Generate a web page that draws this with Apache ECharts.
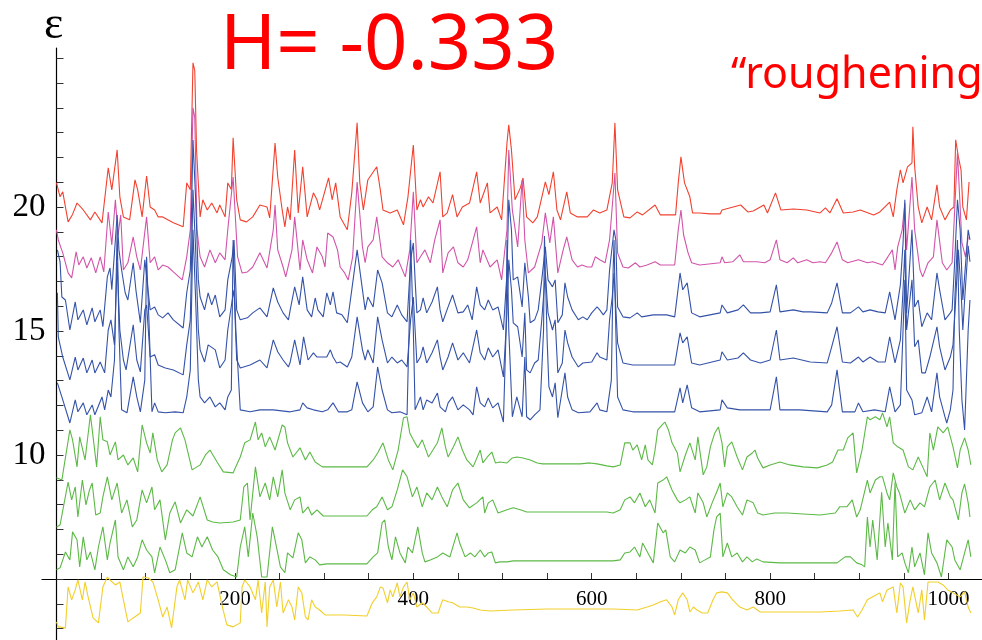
<!DOCTYPE html>
<html>
<head>
<meta charset="utf-8">
<script src="https://cdn.jsdelivr.net/npm/echarts@6/dist/echarts.min.js"></script>
<style>
  html, body { margin: 0; padding: 0; background: #fff; }
  #chart { width: 982px; height: 640px; }
</style>
</head>
<body>
<div id="chart"></div>
<script>
// axis ticks and labels
const yTickValues = [3,4,5,6,7,8,9,10,11,12,13,14,15,16,17,18,19,20,21,22,23,24,25,26];
const yLabelValues = [10, 15, 20];
const xTickValues = [50,100,150,200,250,300,350,400,450,500,550,600,650,700,750,800,850,900,950,1000];
const xLabelValues = [200, 400, 600, 800, 1000];

// series as [position, epsilon]
const red = [[0,20.97],[4,20.41],[7,20.61],[13,19.4],[18,19.7],[23,20.16],[30,19.88],[38,19.48],[43,19.8],[51,19.36],[58,21.58],[62,20.69],[68,22.3],[71,20.41],[75,19.6],[82,19.48],[88,21.09],[91,20.69],[96,19.6],[101,21.25],[105,20.0],[110,19.88],[114,19.6],[119,19.6],[131,19.36],[142,19.2],[146,20.97],[150,20.69],[153,25.81],[155,25.5],[157,22.3],[161,19.6],[164,20.29],[169,19.88],[174,20.16],[180,19.76],[183,20.08],[189,19.6],[192,20.97],[196,20.7],[198,22.79],[202,20.29],[206,19.48],[213,19.4],[220,19.6],[228,20.08],[236,20.0],[239,19.56],[245,22.58],[248,21.2],[253,19.88],[256,19.2],[259,20.0],[262,19.48],[267,22.3],[271,19.76],[276,21.62],[281,19.6],[288,20.57],[292,20.29],[295,19.88],[305,21.17],[309,20.29],[313,20.97],[318,19.6],[326,19.08],[331,20.57],[337,23.39],[340,20.97],[344,19.88],[349,21.09],[359,21.62],[363,20.69],[366,19.88],[374,19.76],[382,19.88],[389,19.28],[394,20.41],[400,22.5],[404,19.88],[408,20.29],[411,20.0],[417,20.41],[422,20.16],[430,21.42],[433,19.6],[438,19.76],[444,20.5],[449,19.6],[455,20.0],[463,20.16],[471,21.42],[475,20.16],[483,20.97],[486,19.76],[494,20.0],[499,19.48],[505,22.58],[507,23.31],[510,22.3],[514,20.29],[520,20.77],[523,21.17],[527,19.6],[534,19.36],[539,19.6],[548,21.01],[552,20.5],[557,21.42],[561,19.88],[565,19.48],[572,20.61],[576,19.76],[584,19.6],[595,19.6],[602,19.88],[609,19.76],[617,19.88],[623,20.97],[626,23.39],[629,20.69],[636,19.6],[643,19.56],[651,19.8],[657,19.68],[671,20.08],[677,19.68],[694,19.68],[697,20.97],[700,22.02],[704,20.97],[710,20.41],[713,19.76],[721,19.76],[733,19.72],[744,19.72],[746,19.88],[767,20.08],[775,19.8],[781,19.84],[793,20.08],[797,19.76],[806,20.57],[812,19.88],[826,19.92],[841,19.88],[856,19.76],[862,19.96],[867,19.76],[875,20.33],[882,19.76],[893,19.8],[901,19.88],[916,19.68],[923,19.8],[934,20.2],[938,19.6],[942,20.69],[946,21.5],[949,20.97],[954,21.62],[959,21.78],[960,23.23],[962,21.62],[966,20.0],[970,19.36],[976,20.0],[981,19.48],[987,20.89],[990,20.0],[996,19.48],[1002,19.88],[1006,20.0],[1008,22.71],[1011,22.02],[1014,21.5],[1016,20.0],[1020,19.48],[1023,21.01]];

const magenta = [[0,19.08],[2,18.67],[7,18.15],[13,17.34],[17,17.14],[22,18.19],[25,17.66],[30,17.99],[34,17.54],[39,17.95],[44,17.34],[49,17.99],[53,17.38],[58,19.8],[62,18.47],[66,20.29],[69,18.87],[72,19.68],[75,17.46],[80,17.75],[86,18.79],[90,17.99],[94,17.46],[101,19.6],[105,17.75],[110,17.99],[114,17.46],[119,17.66],[125,17.58],[131,17.38],[141,17.06],[146,17.99],[150,19.08],[153,24.0],[155,23.6],[157.5,19.08],[161,17.99],[166,17.58],[172,18.27],[178,17.75],[183,18.15],[189,17.87],[192,19.08],[198,21.21],[203,17.99],[208,17.34],[214,17.38],[220,17.58],[228,18.15],[236,17.54],[243,19.08],[245,20.08],[248,18.27],[254,17.58],[257,17.18],[264,18.27],[267,19.6],[273,17.46],[276,18.67],[281,17.87],[287,17.34],[292,18.39],[298,17.99],[301,17.58],[304,18.95],[310,18.79],[315,18.27],[318,17.58],[323,17.34],[327,17.06],[332,17.99],[337,21.01],[343,18.39],[346,17.75],[349,18.39],[355,18.67],[359,19.6],[365,17.99],[371,17.75],[377,17.58],[383,17.87],[391,17.18],[396,18.27],[400,20.61],[404,17.75],[408,17.99],[413,18.27],[419,17.75],[424,18.67],[430,19.48],[433,17.34],[439,18.15],[445,18.39],[450,17.75],[456,17.58],[461,17.87],[471,19.2],[475,17.75],[478,18.27],[486,17.58],[494,17.87],[499,17.06],[505,19.08],[507,22.3],[511,19.88],[517,18.39],[522,21.09],[525,18.67],[529,17.34],[531,17.34],[536,17.58],[544,18.55],[548,19.76],[553,18.55],[557,19.6],[562,17.34],[568,18.27],[572,18.79],[578,17.87],[584,17.58],[589,17.66],[595,17.58],[600,17.58],[604,17.99],[609,17.87],[615,17.75],[620,18.67],[626,21.37],[629,18.15],[635,17.58],[641,17.54],[649,17.75],[654,17.58],[662,17.66],[671,17.79],[677,17.66],[693,17.66],[697,19.08],[700,19.88],[703,18.87],[708,18.15],[712,17.75],[721,17.66],[744,17.75],[746,17.99],[749,17.75],[758,17.79],[766,18.07],[770,17.79],[785,17.79],[794,17.75],[800,17.87],[807,18.67],[811,17.87],[819,17.75],[826,17.95],[831,17.75],[841,17.87],[848,17.75],[856,17.79],[862,17.75],[869,18.15],[875,18.59],[881,17.87],[887,17.75],[899,17.87],[909,17.75],[915,17.79],[926,17.66],[932,17.99],[937,18.27],[940,17.46],[943,18.39],[948,19.08],[951,20.16],[953,18.27],[959,21.21],[962,19.08],[965,18.27],[968,17.46],[971,17.18],[977,17.75],[983,17.99],[987,19.48],[993,17.75],[998,17.46],[1004,17.75],[1010,22.2],[1015,18.55],[1019,17.99],[1022,18.79]];

const blue1 = [[1,18.27],[4,17.79],[6,16.37],[10,16.25],[15,15.04],[21,16.17],[24,15.45],[30,15.85],[34,15.25],[40,15.93],[43,15.37],[49,15.85],[52,15.17],[57,17.18],[60,17.54],[62,16.66],[66,18.67],[68,19.68],[70,18.27],[73,17.46],[77,16.54],[80,16.25],[86,17.75],[89,16.66],[94,15.33],[99,17.87],[101,17.95],[105,15.85],[110,15.97],[114,15.65],[119,15.53],[125,15.73],[131,15.45],[142,15.12],[146,16.54],[150,17.46],[153,22.7],[156,20.3],[159,17.06],[161,16.37],[166,15.85],[170,16.54],[174,16.05],[178,16.45],[183,15.57],[189,15.85],[192,17.06],[197,17.99],[199,18.67],[202,15.85],[206,15.45],[214,15.53],[220,15.73],[228,15.93],[236,15.57],[243,16.74],[248,16.17],[254,15.73],[260,15.45],[262,15.85],[267,16.78],[272,16.05],[276,17.18],[281,15.85],[286,15.57],[290,16.33],[293,15.85],[299,15.57],[303,16.54],[307,16.05],[310,16.58],[314,15.73],[320,15.65],[326,15.33],[331,16.66],[337,18.27],[343,16.66],[346,15.85],[349,16.37],[355,15.97],[360,17.46],[365,16.94],[371,15.73],[376,15.57],[382,16.05],[387,15.65],[393,15.37],[397,17.87],[400,18.55],[402,17.06],[404,15.73],[408,15.85],[411,16.33],[415,15.73],[421,16.17],[427,16.78],[430,15.85],[433,15.37],[439,15.97],[444,16.45],[450,15.73],[456,15.77],[461,16.05],[466,15.45],[471,16.78],[475,16.05],[480,15.85],[484,16.25],[489,15.85],[495,15.97],[501,15.04],[505,17.34],[507,20.29],[510,19.08],[512,17.06],[517,17.18],[522,15.97],[525,17.75],[529,16.37],[531,15.33],[536,15.45],[540,15.85],[544,17.06],[548,18.39],[551,17.06],[556,16.78],[559,17.06],[562,15.33],[567,15.65],[570,16.94],[573,16.37],[578,15.85],[585,15.45],[590,15.57],[595,15.45],[600,15.73],[606,15.97],[609,15.85],[613,15.65],[617,15.85],[620,17.46],[625,19.08],[627,18.67],[629,15.97],[635,15.57],[643,15.53],[651,15.73],[656,15.57],[669,15.65],[684,15.65],[693,15.57],[699,17.34],[702,16.66],[707,16.94],[712,15.73],[721,15.57],[744,15.73],[746,16.05],[752,15.73],[764,15.85],[770,16.05],[778,15.73],[789,15.73],[800,15.77],[807,16.86],[811,15.77],[826,15.85],[837,15.77],[845,15.77],[864,15.73],[869,16.13],[875,16.94],[881,15.73],[890,15.73],[899,15.97],[904,15.77],[912,15.85],[921,15.77],[929,15.73],[934,16.58],[940,15.45],[946,16.86],[949,18.55],[951,20.29],[953,15.73],[959,19.08],[962,15.97],[966,16.25],[970,15.17],[976,15.73],[981,15.45],[987,17.34],[990,16.66],[996,15.45],[1002,15.73],[1004,15.85],[1007,17.87],[1010,20.29],[1013,19.08],[1016,16.25],[1018,17.18],[1022,19.08],[1024,18.67]];

const blue2 = [[1,16.54],[2,14.76],[7,13.95],[15,13.03],[21,13.95],[24,13.43],[30,13.91],[34,13.31],[40,13.83],[43,13.31],[49,13.75],[54,13.31],[58,15.04],[61,15.45],[65,14.44],[68,17.75],[71,15.04],[75,13.83],[78,13.43],[86,15.25],[90,13.83],[94,13.35],[99,15.85],[101,16.05],[105,13.95],[110,14.04],[114,13.63],[122,13.51],[131,13.43],[142,13.23],[146,14.44],[150,15.45],[153,20.69],[156,18.27],[159,15.04],[161,14.24],[166,13.75],[170,14.44],[178,14.24],[183,13.51],[189,13.83],[192,15.04],[197,16.25],[199,16.66],[202,13.83],[206,13.51],[217,13.63],[228,13.83],[236,13.51],[243,14.64],[248,14.16],[254,13.83],[260,13.55],[262,13.75],[267,14.64],[273,13.63],[277,14.76],[282,13.83],[288,14.12],[292,13.95],[298,13.95],[303,13.95],[307,14.24],[310,13.95],[314,13.71],[318,13.75],[326,13.55],[331,13.95],[337,15.57],[343,14.24],[346,13.83],[349,14.24],[355,13.71],[360,15.57],[365,14.64],[371,13.71],[376,13.95],[382,13.71],[387,13.83],[393,13.55],[397,15.45],[400,16.37],[402,15.04],[404,13.71],[408,13.95],[411,14.36],[415,13.71],[421,14.12],[427,14.64],[430,13.95],[433,13.43],[439,13.95],[444,14.52],[450,13.83],[456,14.12],[463,13.71],[471,15.04],[475,14.12],[480,13.83],[484,14.32],[489,13.95],[495,14.24],[501,13.15],[505,15.73],[507,17.87],[510,16.66],[512,15.33],[517,15.17],[522,13.95],[525,15.73],[527,13.43],[531,13.31],[536,13.71],[540,13.83],[544,15.45],[548,17.34],[551,15.73],[556,15.04],[559,15.45],[562,13.31],[567,13.71],[570,15.04],[573,14.52],[578,13.95],[585,13.55],[590,13.71],[600,13.75],[606,14.12],[609,13.95],[617,13.83],[620,15.45],[623,16.37],[625,17.34],[629,14.52],[635,13.71],[646,13.63],[665,13.63],[693,13.63],[699,14.92],[702,14.52],[707,14.76],[712,13.71],[721,13.63],[744,13.83],[746,14.16],[752,13.83],[764,13.91],[770,14.12],[778,13.83],[789,13.71],[800,13.83],[807,15.04],[811,13.83],[826,13.91],[845,13.75],[864,13.71],[869,14.36],[875,15.17],[881,13.75],[890,13.71],[899,13.95],[904,13.75],[912,13.95],[921,13.75],[929,13.75],[934,14.76],[940,13.71],[946,14.64],[949,16.66],[951,18.27],[953,15.04],[959,17.06],[962,14.36],[966,14.64],[970,13.31],[974,13.31],[979,13.95],[987,15.17],[990,14.36],[996,13.43],[1002,13.95],[1005,14.44],[1008,16.25],[1011,18.27],[1014,16.66],[1016,15.04],[1018,16.25],[1022,18.43],[1024,17.79]];

const blue3 = [[1,12.91],[6,12.34],[15,11.29],[21,12.22],[24,11.74],[30,12.1],[34,11.62],[40,12.02],[43,11.62],[51,12.34],[54,11.82],[58,12.62],[61,12.34],[65,13.83],[68,19.08],[70,15.04],[73,11.82],[79,11.7],[86,13.15],[90,12.34],[94,11.74],[99,13.03],[101,17.99],[104,15.04],[107,11.74],[110,12.1],[114,11.74],[122,11.7],[133,11.74],[142,11.7],[146,12.34],[150,13.43],[153,19.08],[156,16.25],[159,13.03],[161,12.34],[166,12.1],[172,12.34],[178,11.94],[183,12.1],[189,11.82],[192,12.34],[196,12.62],[198,18.67],[201,15.04],[206,11.82],[217,11.74],[228,11.82],[243,11.82],[262,11.74],[273,11.82],[276,12.1],[281,11.9],[288,11.82],[298,11.74],[304,11.82],[310,12.1],[316,11.74],[326,11.74],[331,11.82],[337,12.95],[343,12.1],[349,11.74],[355,11.94],[360,13.55],[365,12.62],[371,11.82],[376,11.7],[385,11.74],[393,11.62],[396,16.25],[397,18.67],[400,15.04],[402,11.82],[408,12.34],[411,11.82],[415,12.22],[421,12.1],[427,12.5],[430,11.94],[436,11.74],[439,12.1],[444,12.34],[450,11.82],[456,12.02],[463,11.82],[467,11.62],[471,12.75],[475,12.1],[480,11.94],[484,12.3],[489,11.9],[495,12.1],[501,11.33],[504,15.04],[505,18.67],[507,15.04],[511,11.54],[516,12.34],[522,11.54],[525,13.95],[527,11.54],[531,11.42],[536,11.62],[542,11.82],[546,15.04],[547,18.83],[550,14.64],[552,12.75],[556,12.34],[559,12.91],[562,11.5],[570,13.31],[573,12.34],[578,11.82],[585,11.7],[598,11.74],[606,12.1],[609,11.82],[617,11.74],[622,13.03],[624,17.46],[625,18.67],[627,15.04],[629,12.34],[635,11.82],[646,11.74],[665,11.74],[693,11.74],[699,12.71],[702,12.1],[707,12.83],[712,11.9],[721,11.74],[744,11.82],[746,12.22],[752,11.9],[766,11.82],[789,11.82],[800,11.82],[807,13.15],[811,11.82],[833,11.82],[864,11.74],[869,12.02],[875,13.43],[881,11.74],[895,11.74],[899,12.1],[904,11.74],[917,11.82],[929,11.74],[934,12.75],[940,11.74],[946,12.02],[949,15.04],[951,17.06],[953,12.62],[959,12.22],[962,11.62],[970,11.7],[976,12.34],[981,11.74],[987,13.31],[990,12.34],[996,11.54],[998,11.29],[1002,11.82],[1005,12.62],[1007,16.25],[1010,18.67],[1012,15.04],[1015,12.22],[1018,11.01],[1022,15.04],[1024,16.25]];

const green1 = [[0,9.08],[6,8.99],[15,11.01],[18,10.61],[23,9.52],[26,10.73],[32,9.8],[38,11.62],[41,10.73],[45,9.52],[49,11.54],[52,10.61],[57,10.53],[60,10.0],[66,10.53],[69,9.8],[75,10.0],[80,9.6],[86,9.88],[91,9.32],[96,11.21],[101,10.49],[105,10.08],[108,10.89],[113,9.8],[118,9.32],[124,9.6],[130,10.61],[133,10.89],[139,11.09],[144,10.61],[152,9.4],[161,9.6],[167,10.0],[172,10.2],[180,9.72],[187,9.32],[198,9.28],[206,9.92],[211,10.49],[217,10.61],[223,11.33],[226,10.61],[230,10.89],[234,10.33],[239,10.73],[245,10.2],[253,11.21],[256,11.13],[259,10.49],[265,9.92],[273,10.29],[279,9.8],[284,10.12],[290,9.72],[298,9.52],[323,9.52],[348,9.52],[355,9.8],[360,10.08],[366,10.49],[372,9.8],[377,9.4],[383,10.2],[389,11.5],[393,11.54],[396,10.89],[400,10.61],[405,10.29],[410,10.61],[417,9.92],[422,10.2],[427,10.49],[432,11.09],[436,10.33],[439,9.92],[445,10.33],[450,10.73],[455,10.2],[460,9.8],[467,9.52],[475,10.2],[478,9.68],[483,9.92],[488,10.12],[492,9.68],[497,9.72],[505,9.68],[511,9.88],[516,9.92],[523,9.88],[531,9.8],[539,9.68],[545,9.64],[568,9.64],[587,9.64],[598,9.68],[606,9.64],[617,9.56],[624,9.52],[632,9.6],[637,10.49],[643,10.49],[646,10.2],[651,10.41],[656,9.8],[660,10.41],[663,9.8],[668,9.6],[671,10.2],[674,11.01],[679,11.21],[682,11.33],[686,11.01],[690,10.49],[696,10.08],[699,9.32],[705,10.0],[710,10.49],[716,9.8],[719,10.73],[725,9.2],[729,9.52],[733,10.33],[738,10.89],[742,11.13],[746,10.49],[749,9.52],[752,10.33],[757,10.53],[763,9.92],[769,9.4],[774,9.92],[780,10.08],[783,10.2],[786,9.88],[792,9.48],[800,9.6],[811,9.72],[822,9.6],[837,9.52],[853,9.48],[864,9.6],[870,9.72],[876,10.2],[882,10.2],[887,10.69],[893,10.89],[897,9.28],[903,10.2],[909,11.54],[912,11.42],[918,11.54],[923,11.42],[926,11.7],[931,11.13],[934,11.54],[938,10.49],[943,10.33],[949,10.2],[955,9.52],[960,9.4],[966,9.92],[971,9.52],[976,9.12],[979,10.89],[983,10.2],[988,11.13],[994,10.89],[999,11.13],[1005,10.33],[1010,9.48],[1013,10.2],[1018,10.69],[1022,10.2],[1025,9.6]];

const green2 = [[0,7.1],[4,7.18],[13,8.91],[17,8.19],[21,8.71],[24,7.5],[29,8.99],[33,7.99],[37,8.59],[40,8.87],[44,7.58],[49,7.66],[52,8.31],[57,9.12],[62,8.19],[68,8.87],[73,7.66],[79,8.19],[85,7.1],[90,7.38],[96,8.59],[101,8.07],[107,8.71],[110,7.79],[116,8.19],[122,6.58],[127,7.66],[133,8.11],[139,7.26],[146,7.79],[153,7.54],[161,8.31],[169,7.38],[175,7.3],[183,7.26],[198,7.3],[206,7.38],[210,8.71],[214,8.87],[217,7.38],[223,9.52],[228,8.31],[234,8.87],[239,8.19],[243,9.12],[248,8.31],[253,9.4],[256,8.47],[262,7.79],[267,8.19],[273,8.31],[276,7.66],[282,7.91],[286,7.58],[292,7.79],[299,7.54],[323,7.54],[348,7.54],[354,7.79],[359,7.91],[365,8.31],[371,7.79],[376,7.91],[382,8.59],[388,9.4],[393,9.12],[399,8.31],[404,8.71],[410,7.91],[415,8.47],[421,8.19],[427,8.71],[432,8.31],[438,7.91],[444,8.59],[450,8.87],[456,8.19],[463,7.87],[471,8.07],[478,8.31],[480,7.66],[484,8.07],[489,8.19],[495,7.66],[505,7.79],[512,7.87],[520,7.79],[527,7.7],[539,7.7],[564,7.7],[598,7.7],[617,7.7],[624,7.66],[632,7.79],[637,8.19],[643,8.31],[648,8.07],[654,8.47],[660,7.91],[665,8.19],[671,7.66],[674,8.87],[680,8.99],[684,9.12],[690,8.59],[696,8.19],[699,8.07],[705,8.19],[710,8.31],[716,7.66],[719,8.47],[725,8.07],[729,7.5],[735,8.07],[741,8.59],[744,8.87],[747,7.91],[752,8.47],[757,8.31],[763,7.91],[769,7.58],[774,8.19],[781,8.07],[786,7.66],[792,7.58],[805,7.66],[819,7.66],[837,7.62],[856,7.58],[873,7.66],[878,7.91],[886,7.91],[892,8.19],[897,7.5],[901,7.79],[909,8.99],[912,8.47],[918,8.99],[923,9.12],[926,9.12],[931,8.47],[934,8.19],[938,9.28],[942,8.71],[945,8.47],[951,7.66],[957,8.19],[962,7.79],[968,8.07],[973,7.91],[979,8.71],[985,8.99],[990,8.19],[996,8.87],[1002,8.31],[1005,8.19],[1011,7.38],[1015,8.47],[1018,8.83],[1022,8.07],[1024,7.5]];

const green3 = [[0,5.37],[4,5.45],[10,6.09],[15,5.77],[18,6.9],[23,6.58],[26,5.49],[30,6.7],[34,5.77],[38,6.09],[43,5.37],[47,6.29],[52,7.1],[57,5.77],[60,6.45],[66,7.38],[69,5.89],[75,5.37],[80,5.89],[86,5.49],[91,5.89],[96,6.58],[101,6.17],[107,5.89],[110,5.25],[116,6.29],[122,5.77],[127,5.25],[133,5.37],[141,6.86],[146,6.05],[152,5.89],[158,6.7],[163,6.29],[169,6.7],[175,6.17],[181,5.89],[187,5.37],[195,5.17],[202,5.08],[206,6.29],[211,7.1],[215,5.89],[220,7.66],[225,6.7],[230,5.08],[236,5.08],[242,7.1],[245,6.58],[251,5.49],[256,5.25],[259,6.05],[265,5.85],[271,6.86],[275,6.58],[279,5.65],[284,5.89],[290,5.77],[295,5.57],[303,5.61],[323,5.61],[348,5.61],[355,5.89],[360,6.05],[365,7.26],[368,7.38],[372,6.29],[376,5.77],[380,6.7],[385,6.05],[391,5.65],[394,6.29],[399,6.05],[402,6.58],[405,7.1],[410,6.05],[413,5.69],[419,5.77],[427,5.89],[433,6.05],[441,5.89],[449,6.86],[452,6.45],[458,5.89],[464,6.05],[469,5.89],[475,6.17],[480,5.89],[484,6.05],[488,6.09],[492,5.65],[497,5.69],[505,5.69],[512,5.73],[542,5.73],[587,5.73],[624,5.73],[632,5.77],[637,6.05],[643,6.09],[648,6.29],[654,5.89],[657,6.45],[663,6.05],[669,5.65],[674,7.26],[680,6.86],[683,6.98],[688,5.89],[693,5.69],[699,6.17],[705,6.05],[710,6.29],[716,6.17],[721,5.65],[727,5.77],[733,5.89],[737,6.98],[740,7.5],[744,7.66],[747,5.89],[752,6.45],[757,5.89],[763,6.05],[769,5.69],[774,5.89],[780,5.69],[785,5.81],[792,5.69],[811,5.65],[837,5.65],[856,5.65],[875,5.65],[884,5.89],[890,5.89],[897,5.65],[903,5.57],[906,5.49],[909,7.5],[912,6.29],[915,7.38],[920,5.77],[925,8.5],[929,6.29],[932,7.26],[937,5.77],[940,8.9],[943,5.89],[948,6.05],[951,5.65],[955,5.25],[959,6.29],[962,5.49],[968,6.05],[973,5.17],[977,6.86],[981,6.05],[987,5.65],[992,5.08],[998,6.58],[1004,6.29],[1007,5.77],[1013,5.37],[1018,6.05],[1022,6.58],[1025,5.89]];

const yellow = [[0,3.27],[2,3.07],[10,3.03],[13,4.68],[17,4.16],[21,4.56],[24,4.96],[29,4.16],[32,4.88],[35,4.35],[41,3.43],[47,3.23],[52,4.68],[57,5.08],[60,4.96],[66,4.76],[71,4.88],[75,4.16],[80,3.27],[86,3.43],[94,3.63],[97,5.08],[103,5.04],[108,4.88],[114,4.16],[119,3.47],[124,3.87],[129,3.03],[135,4.68],[138,4.96],[144,4.16],[147,4.96],[153,4.44],[159,4.88],[164,4.16],[169,4.96],[174,4.68],[180,4.88],[186,3.87],[191,3.15],[198,3.07],[206,3.23],[208,4.68],[211,4.96],[217,4.68],[223,4.16],[226,4.96],[230,3.63],[234,4.88],[236,3.07],[239,4.68],[243,4.96],[247,3.87],[251,4.88],[254,3.63],[260,4.16],[264,3.87],[267,3.35],[271,4.68],[275,4.44],[279,3.47],[282,3.35],[286,4.16],[290,3.87],[295,3.75],[301,3.55],[323,3.55],[348,3.51],[354,4.04],[359,4.28],[363,4.68],[366,4.64],[371,4.04],[374,4.56],[377,4.28],[382,4.84],[385,4.28],[389,4.68],[393,4.88],[396,4.16],[400,4.44],[404,3.87],[410,4.04],[415,3.87],[421,3.63],[428,3.63],[430,3.87],[433,4.16],[439,4.08],[444,4.04],[452,3.87],[460,3.87],[467,3.83],[475,3.75],[486,3.71],[512,3.75],[550,3.79],[587,3.79],[624,3.79],[651,3.75],[662,3.87],[669,3.95],[677,4.08],[684,4.16],[690,3.87],[693,3.55],[697,4.16],[702,4.44],[707,4.16],[710,3.67],[714,3.87],[718,3.75],[724,3.63],[730,3.63],[736,4.16],[740,4.44],[746,4.48],[752,4.44],[758,4.16],[766,3.87],[774,3.75],[781,3.87],[789,3.67],[819,3.67],[856,3.67],[878,3.71],[893,3.75],[898,3.47],[903,3.75],[909,4.16],[915,4.28],[923,4.44],[926,4.08],[931,4.56],[938,4.68],[942,3.63],[946,4.84],[949,4.68],[953,3.23],[957,4.16],[960,4.68],[966,3.63],[970,4.56],[973,3.35],[977,4.88],[983,4.88],[988,4.88],[994,4.76],[999,4.56],[1005,4.44],[1013,4.28],[1018,4.48],[1022,3.87],[1025,3.63]];

const chart = echarts.init(document.getElementById('chart'), null, { renderer: 'canvas' });

function line(data, color) {
  return {
    type: 'line',
    data: data,
    xAxisIndex: 0,
    yAxisIndex: 0,
    showSymbol: false,
    symbol: 'none',
    silent: true,
    lineStyle: { color: color, width: 1.1 },
  };
}

const option = {
  animation: false,
  backgroundColor: '#ffffff',
  grid: [
    { left: 56.5, right: 0, top: 48, bottom: 0 },
    // second grid only carries the horizontal axis at epsilon = 5
    { left: 42, right: 0, top: 48, height: 531 },
  ],
  xAxis: [
    { type: 'value', gridIndex: 0, min: 0, max: 1037.5, show: false },
    {
      type: 'value',
      gridIndex: 1,
      min: -16.3,
      max: 1037.5,
      axisLine: { show: true, lineStyle: { color: '#000', width: 1.2 } },
      axisTick: { show: true, inside: true, length: 6, customValues: xTickValues, lineStyle: { color: '#333' } },
      axisLabel: {
        customValues: xLabelValues,
        formatter: (v) => String(v),
        margin: 10,
        color: '#000',
        fontFamily: 'Liberation Serif',
        fontSize: 21,
      },
      splitLine: { show: false },
    },
  ],
  yAxis: [
    {
      type: 'value',
      gridIndex: 0,
      min: 2.54,
      max: 26.41,
      axisLine: { show: true, lineStyle: { color: '#000', width: 1.2 } },
      axisTick: { show: true, inside: true, length: 7, customValues: yTickValues, lineStyle: { color: '#333' } },
      axisLabel: {
        customValues: yLabelValues,
        formatter: (v) => String(v),
        margin: 11,
        color: '#000',
        fontFamily: 'Liberation Serif',
        fontSize: 33,
      },
      splitLine: { show: false },
    },
    { type: 'value', gridIndex: 1, min: 0, max: 1, show: false },
  ],
  graphic: [
    {
      type: 'text',
      left: 44,
      top: 3,
      style: { text: 'ε', fill: '#000', font: '46px "Liberation Serif"' },
    },
    {
      type: 'text',
      x: 220,
      y: 47,
      style: {
        text: 'H= -0.333',
        fill: '#ff0000',
        font: '76px "Noto Sans"',
        textAlign: 'left',
        textVerticalAlign: 'middle',
      },
    },
    {
      type: 'text',
      x: 731,
      y: 76,
      style: {
        text: '“roughening',
        fill: '#ff0000',
        font: '43px "Noto Sans"',
        textAlign: 'left',
        textVerticalAlign: 'middle',
      },
    },
  ],
  series: [
    line(red, '#f2412f'),
    line(magenta, '#d154aa'),
    line(blue1, '#3452a8'),
    line(blue2, '#3452a8'),
    line(blue3, '#3452a8'),
    line(green1, '#5cb946'),
    line(green2, '#5cb946'),
    line(green3, '#5cb946'),
    line(yellow, '#f2cf2a'),
  ],
};

chart.setOption(option);
</script>
</body>
</html>
